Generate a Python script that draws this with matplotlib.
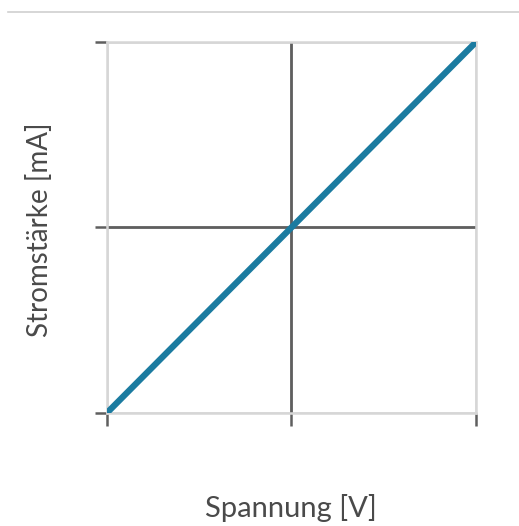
import matplotlib.pyplot as plt
from matplotlib.lines import Line2D

# Kennlinie eines ohmschen Widerstands (normiert)
spannung = [-1.0, -0.5, 0.0, 0.5, 1.0]
strom = [-1.0, -0.5, 0.0, 0.5, 1.0]
ticks = [-1, 0, 1]

grid_color = "#d6d6d6"
axis_color = "#5f5f5f"
line_color = "#1b7ba0"
text_color = "#4a4a4a"

fig = plt.figure(figsize=(5.19, 5.26), dpi=100)
ax = fig.add_axes([0.206, 0.215, 0.711, 0.705])

# Trennlinie oben
fig.add_artist(Line2D([8 / 519, 1.0], [0.978, 0.978], color="#d0d0d0",
                      linewidth=1.2, transform=fig.transFigure))

ax.set_xlim(-1, 1)
ax.set_ylim(-1, 1)
ax.set_xticks(ticks)
ax.set_yticks(ticks)
ax.set_xticklabels([])
ax.set_yticklabels([])
ax.grid(True, color=grid_color, linewidth=1.8)
for spine in ax.spines.values():
    spine.set_color(grid_color)
    spine.set_linewidth(1.8)

ax.tick_params(axis="both", direction="out", length=9, width=1.8,
               color=axis_color)

# Achsen durch den Nullpunkt
ax.axhline(0, color=axis_color, linewidth=2.0, zorder=2)
ax.axvline(0, color=axis_color, linewidth=2.0, zorder=2)

ax.plot(spannung, strom, color=line_color, linewidth=4.5,
        solid_capstyle="round", zorder=3)

fig.text(0.561, 0.034, "Spannung [V]", ha="center", va="center",
         fontsize=21, color=text_color, family="Lato")
fig.text(0.077, 0.563, "Stromstärke [mA]", ha="center", va="center",
         rotation=90, fontsize=20, color=text_color, family="Lato")

fig.savefig("out.png", dpi=100)
